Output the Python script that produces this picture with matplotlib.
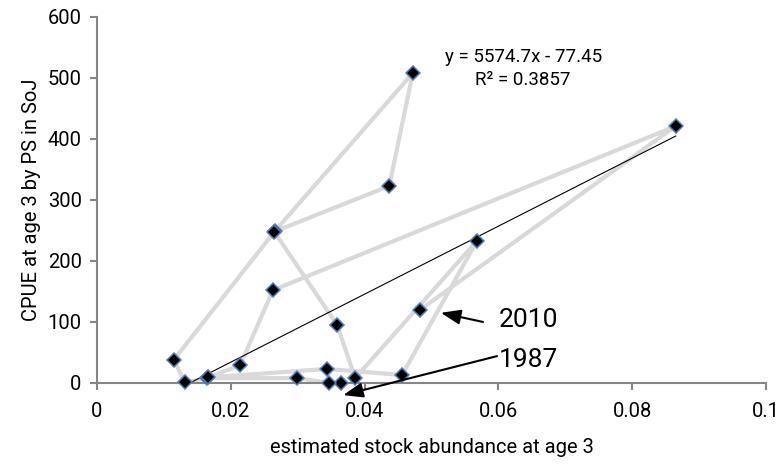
import numpy as np
import matplotlib.pyplot as plt

plt.rcParams['font.family'] = ['Roboto', 'DejaVu Sans']

# yearly values, in time order (1987 ... 2010)
abundance = [0.0365, 0.0347, 0.0299, 0.0165, 0.0131, 0.0115, 0.0266, 0.0472, 0.0437, 0.0265,
             0.0359, 0.0386, 0.0568, 0.0456, 0.0344, 0.0166, 0.0214, 0.0263, 0.0865, 0.0483]
cpue = [0, 0, 8, 8, 1, 38, 249, 508, 323, 248,
        95, 8, 233, 13, 23, 9, 29, 152, 421, 120]

# trendline shown on the chart
slope = 5574.7
intercept = -77.45
r2 = 0.3857

x_ticks = [0, 0.02, 0.04, 0.06, 0.08, 0.1]
x_tick_labels = ['0', '0.02', '0.04', '0.06', '0.08', '0.1']
y_ticks = [0, 100, 200, 300, 400, 500, 600]

fig = plt.figure(figsize=(7.82, 4.67), dpi=100)
ax = fig.add_axes([0.124, 0.180, 0.8555, 0.7836])

ax.plot(abundance, cpue, color='#D9D9D9', lw=3, zorder=1)

xs = np.array([min(abundance), max(abundance)])
ax.plot(xs, slope * xs + intercept, color='black', lw=0.8, zorder=2)

ax.plot(abundance, cpue, ls='none', marker='D', ms=7.5, mfc='black',
        mec='#4F81BD', mew=1.1, zorder=3, clip_on=False)

ax.set_xlim(0, 0.1)
ax.set_ylim(0, 600)
ax.set_xticks(x_ticks)
ax.set_xticklabels(x_tick_labels)
ax.set_yticks(y_ticks)

for s in ['top', 'right']:
    ax.spines[s].set_visible(False)
for s in ['left', 'bottom']:
    ax.spines[s].set_color('#868686')
    ax.spines[s].set_linewidth(1.5)
ax.tick_params(axis='both', colors='#868686', width=1.5, length=5, labelsize=14.5,
               labelcolor='black')
ax.tick_params(axis='x', pad=9)
ax.tick_params(axis='y', pad=6)

ax.set_xlabel('estimated stock abundance at age 3', fontsize=14.5, labelpad=12)
ax.set_ylabel('CPUE at age 3 by PS in SoJ', fontsize=14.5, labelpad=5)

ax.text(0.0637, 516, 'y = %.1fx - %.2f\nR² = %.4f' % (slope, -intercept, r2),
        ha='center', va='center', multialignment='center', fontsize=13.5,
        linespacing=1.35)

arrow = dict(arrowstyle='-|>,head_length=0.8,head_width=0.3', color='black',
             lw=1.5, mutation_scale=15, shrinkA=0, shrinkB=0)
ax.annotate('', xy=(0.0514, 115), xytext=(0.0577, 100), arrowprops=arrow,
            annotation_clip=False)
ax.annotate('', xy=(0.0368, -20), xytext=(0.0598, 44), arrowprops=arrow,
            annotation_clip=False)
ax.text(0.0601, 103, '2010', fontsize=19, va='center', ha='left')
ax.text(0.0601, 38, '1987', fontsize=19, va='center', ha='left')

fig.savefig('out.png', dpi=100)
